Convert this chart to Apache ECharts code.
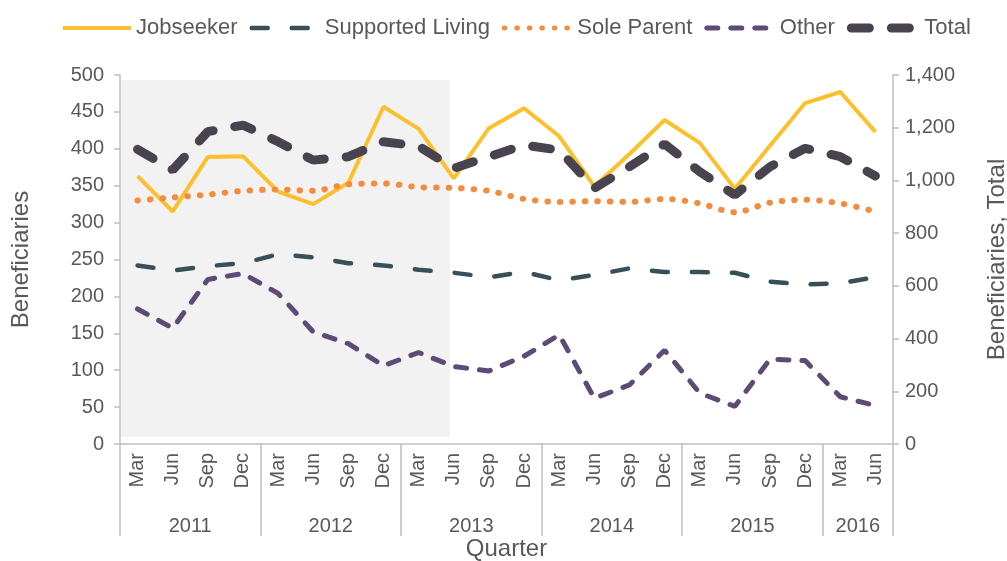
<!DOCTYPE html>
<html>
<head>
<meta charset="utf-8">
<script src="https://cdn.jsdelivr.net/npm/echarts@6/dist/echarts.min.js"></script>
<style>
  html, body { margin: 0; padding: 0; background: #fff; }
  #chart { width: 1007px; height: 561px; }
</style>
</head>
<body>
<div id="chart"></div>
<script>
// 数据
const quarters = ['Mar', 'Jun', 'Sep', 'Dec', 'Mar', 'Jun', 'Sep', 'Dec', 'Mar', 'Jun', 'Sep',
    'Dec', 'Mar', 'Jun', 'Sep', 'Dec', 'Mar', 'Jun', 'Sep', 'Dec', 'Mar', 'Jun'];
const years = ['2011', '2011', '2011', '2011', '2012', '2012', '2012', '2012', '2013', '2013', '2013',
    '2013', '2014', '2014', '2014', '2014', '2015', '2015', '2015', '2015', '2016', '2016'];

const jobseeker = [363, 315, 389, 390, 342, 325, 354, 457, 427, 360, 428, 455, 417, 349, 393, 439, 408, 346, 404, 462, 477, 423];
const supportedLiving = [242, 235, 241, 245, 257, 253, 245, 242, 236, 232, 226, 233, 222, 229, 238, 233, 233, 232, 220, 216, 218, 226];
const soleParent = [330, 334, 338, 343, 345, 343, 352, 353, 348, 347, 343, 332, 328, 329, 328, 332, 326, 314, 327, 331, 326, 315];
const other = [183, 157, 223, 231, 204, 152, 136, 106, 124, 105, 99, 119, 148, 62, 80, 127, 69, 51, 115, 113, 64, 52];
const total = [1118, 1040, 1185, 1210, 1147, 1077, 1090, 1147, 1130, 1046, 1090, 1134, 1115, 970, 1052, 1138, 1033, 945, 1052, 1122, 1090, 1017];

const leftTicks = { min: 0, max: 500, step: 50 };
const rightTicks = { min: 0, max: 1400, step: 200 };

const grey = '#595959';
const axisGrey = '#bfbfbf';

// 每年的标签放在该年中间那个季度 (偶数个季度时再往右挪半格)
const yearLabelIdx = [];
years.forEach(function (y, i) {
    if (i === 0 || years[i - 1] !== y) {
        let n = years.filter(function (v) { return v === y; }).length;
        yearLabelIdx.push(i + Math.floor((n - 1) / 2));
    }
});

const chart = echarts.init(document.getElementById('chart'));

option = {
    animation: false,
    textStyle: { fontFamily: 'Liberation Sans, Arial, sans-serif' },
    legend: {
        top: 12,
        left: 56,
        itemWidth: 68,
        itemHeight: 12,
        itemGap: 12,
        textStyle: { fontSize: 22, color: grey },
        itemStyle: { color: 'rgba(0,0,0,0)', borderWidth: 0, opacity: 0 },
        data: [
            { name: 'Jobseeker', lineStyle: { width: 4 } },
            { name: 'Supported Living', lineStyle: { width: 4.5 } },
            { name: 'Sole Parent', lineStyle: { width: 5 } },
            { name: 'Other', lineStyle: { width: 5 } },
            { name: 'Total', lineStyle: { width: 9 } }
        ]
    },
    grid: { left: 120, right: 114, top: 75, bottom: 117, outerBoundsMode: 'none' },
    xAxis: [
        {
            type: 'category',
            data: quarters,
            boundaryGap: true,
            axisLine: { lineStyle: { color: axisGrey, width: 1.5 } },
            axisTick: {
                show: true,
                length: 92,
                interval: function (i) { return i % 4 === 0; },
                lineStyle: { color: axisGrey, width: 1.5 }
            },
            axisLabel: { interval: 0, rotate: 90, fontSize: 20, color: grey, margin: 9 },
            name: 'Quarter',
            nameLocation: 'middle',
            nameGap: 93,
            nameTextStyle: { fontSize: 24, color: grey }
        },
        {
            type: 'category',
            data: years,
            position: 'bottom',
            offset: 64,
            axisLine: { show: false },
            axisTick: { show: false },
            axisLabel: {
                interval: function (i) { return yearLabelIdx.indexOf(i) >= 0; },
                fontSize: 20,
                color: grey,
                padding: [0, 0, 0, 35]
            }
        }
    ],
    yAxis: [
        {
            type: 'value',
            min: leftTicks.min,
            max: leftTicks.max,
            interval: leftTicks.step,
            axisLine: { show: true, lineStyle: { color: axisGrey, width: 1.5 } },
            axisTick: { show: true, length: 6, lineStyle: { color: axisGrey, width: 1.5 } },
            splitLine: { show: false },
            axisLabel: { fontSize: 20, color: grey, margin: 16 },
            name: 'Beneficiaries',
            nameLocation: 'middle',
            nameRotate: 90,
            nameGap: 87,
            nameTextStyle: { fontSize: 24, color: grey }
        },
        {
            type: 'value',
            position: 'right',
            min: rightTicks.min,
            max: rightTicks.max,
            interval: rightTicks.step,
            axisLine: { show: true, lineStyle: { color: axisGrey, width: 1.5 } },
            axisTick: { show: true, length: 6, lineStyle: { color: axisGrey, width: 1.5 } },
            splitLine: { show: false },
            axisLabel: {
                fontSize: 20, color: grey, margin: 12,
                formatter: function (v) { return v.toLocaleString('en-US'); }
            },
            name: 'Beneficiaries, Total',
            nameLocation: 'middle',
            nameRotate: 90,
            nameGap: 92,
            nameTextStyle: { fontSize: 24, color: grey }
        }
    ],
    series: [
        {
            name: 'Jobseeker',
            type: 'line',
            data: jobseeker,
            symbol: 'none',
            color: '#FBC02D',
            lineStyle: { width: 4, color: '#FBC02D' }
        },
        {
            name: 'Supported Living',
            type: 'line',
            data: supportedLiving,
            symbol: 'none',
            color: '#384F59',
            lineStyle: { width: 4.5, color: '#384F59', type: [16, 24], cap: 'round' }
        },
        {
            name: 'Sole Parent',
            type: 'line',
            data: soleParent,
            symbol: 'none',
            smooth: 0.3,
            color: '#F58B3C',
            lineStyle: { width: 6, color: '#F58B3C', type: [0.5, 12], cap: 'round' }
        },
        {
            name: 'Other',
            type: 'line',
            data: other,
            symbol: 'none',
            color: '#5D4B76',
            lineStyle: { width: 5, color: '#5D4B76', type: [11, 13], cap: 'round' }
        },
        {
            name: 'Total',
            type: 'line',
            yAxisIndex: 1,
            data: total,
            symbol: 'none',
            color: '#48434F',
            lineStyle: { width: 9, color: '#48434F', type: [18, 22], cap: 'round' }
        },
        {
            // 灰色阴影区 (Mar 2011 - Jun 2013), 画在线条上面
            name: 'shade',
            type: 'line',
            data: [],
            z: 5,
            silent: true,
            markArea: {
                silent: true,
                itemStyle: { color: 'rgba(201,201,201,0.24)' },
                data: [[{ x: 121, y: 80 }, { x: 450, y: 437 }]]
            }
        }
    ]
};

chart.setOption(option);
</script>
</body>
</html>
